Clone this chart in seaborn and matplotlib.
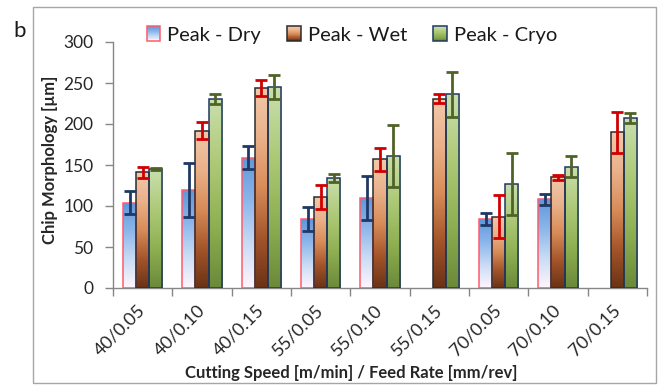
import numpy as np
import pandas as pd
import matplotlib
matplotlib.use("Agg")
import matplotlib.pyplot as plt
import seaborn as sns
from matplotlib.colors import LinearSegmentedColormap
from matplotlib.patches import Rectangle
from matplotlib.legend_handler import HandlerBase

# Cutting speed [m/min] / feed rate [mm/rev]
conditions = ["40/0.05", "40/0.10", "40/0.15", "55/0.05", "55/0.10",
              "55/0.15", "70/0.05", "70/0.10", "70/0.15"]
series = ["Peak - Dry", "Peak - Wet", "Peak - Cryo"]

# Peak chip morphology [um] and standard deviation
dry = [104, 119, 159, 84, 110, np.nan, 84, 108, np.nan]
dry_err = [14, 33, 14, 15, 27, np.nan, 7, 7, np.nan]
wet = [141, 192, 244, 111, 157, 231, 87, 135, 190]
wet_err = [7, 10, 10, 15, 14, 5, 26, 3, 25]
cryo = [145, 231, 245, 134, 161, 236, 127, 148, 207]
cryo_err = [1, 6, 15, 5, 38, 27, 38, 13, 6]

values = {"Peak - Dry": dry, "Peak - Wet": wet, "Peak - Cryo": cryo}
errors = {"Peak - Dry": dry_err, "Peak - Wet": wet_err, "Peak - Cryo": cryo_err}

# bottom -> top gradients for each bar family
fills = {
    "Peak - Dry": LinearSegmentedColormap.from_list(
        "dry", ["#fff6fd", "#c9dcf4", "#8cb6ea", "#5f97dc"]),
    "Peak - Wet": LinearSegmentedColormap.from_list(
        "wet", ["#6a3216", "#a4552a", "#d88c58", "#eab18a", "#f2c9ab"]),
    "Peak - Cryo": LinearSegmentedColormap.from_list(
        "cryo", ["#6b8939", "#8fb052", "#aeca78", "#cadfae"]),
}
edges = {"Peak - Dry": "#ff5b6b", "Peak - Wet": "#2b2b2b", "Peak - Cryo": "#1f3864"}
err_colors = {"Peak - Dry": "#1f3864", "Peak - Wet": "#d00000", "Peak - Cryo": "#4f6228"}

rows = []
for name in series:
    for cond, v in zip(conditions, values[name]):
        if np.isfinite(v):
            rows.append({"Condition": cond, "Series": name, "Value": v})
df = pd.DataFrame(rows)

sns.set_style("white")
plt.rcParams["font.family"] = ["Lato", "DejaVu Sans"]
plt.rcParams["text.color"] = "#1a1a1a"

W, H = 662, 385
fig = plt.figure(figsize=(W / 100, H / 100), dpi=100)
ax = fig.add_axes([113 / W, 1 - 288 / H, (647 - 113) / W, (288 - 42) / H])

sns.barplot(data=df, x="Condition", y="Value", hue="Series", order=conditions,
            hue_order=series, width=0.66, errorbar=None, saturation=1,
            legend=False, ax=ax)

grad = np.linspace(0, 1, 256).reshape(-1, 1)
for name, cont in zip(series, ax.containers):
    for bar in cont:
        h = bar.get_height()
        if not np.isfinite(h) or h <= 0:
            continue
        x0, w = bar.get_x(), bar.get_width()
        im = ax.imshow(grad, cmap=fills[name], extent=(x0, x0 + w, 0, h),
                       origin="lower", aspect="auto", zorder=2,
                       interpolation="bilinear")
        im.set_clip_path(bar)
        bar.set_facecolor("none")
        bar.set_edgecolor(edges[name])
        bar.set_linewidth(1.1)
        bar.set_zorder(3)
        idx = int(round(x0 + w / 2))
        ax.errorbar(x0 + w / 2, h, yerr=errors[name][idx], fmt="none",
                    ecolor=err_colors[name], elinewidth=2, capsize=4.5,
                    capthick=2, zorder=4)

ax.set_xlim(-0.5, len(conditions) - 0.5)
ax.set_ylim(0, 300)
ax.set_yticks(np.arange(0, 301, 50))

axis_grey = "#868686"
for side in ["top", "right"]:
    ax.spines[side].set_visible(False)
for side in ["left", "bottom"]:
    ax.spines[side].set_color(axis_grey)
    ax.spines[side].set_linewidth(1.0)

ax.set_xticks(range(len(conditions)))
ax.set_xticklabels(conditions, rotation=45, ha="right", va="center",
                   rotation_mode="anchor", fontsize=13)
ax.set_xticks(np.arange(-0.5, len(conditions), 1), minor=True)
ax.tick_params(axis="x", which="major", length=0, pad=14, bottom=True)
ax.tick_params(axis="x", which="minor", length=6, width=1, color=axis_grey,
               direction="out", bottom=True)
ax.tick_params(axis="y", which="major", length=6, width=1, color=axis_grey,
               direction="out", left=True, labelsize=12.5, pad=8)

ax.set_xlabel("Cutting Speed [m/min] / Feed Rate [mm/rev]",
              fontweight="bold", fontsize=12, va="center")
ax.xaxis.set_label_coords((351 - 113) / 534, (288 - 373) / 246)
ax.set_ylabel("Chip Morphology [µm]", fontweight="bold", fontsize=12,
              va="center")
ax.yaxis.set_label_coords((50 - 113) / 534, (288 - 160) / 246)


class GradientKey:
    def __init__(self, cmap, edge):
        self.cmap = cmap
        self.edge = edge


class GradientKeyHandler(HandlerBase):
    """Legend key filled with horizontal strips, lightest/darkest as in the bars."""
    steps = 16

    def create_artists(self, legend, orig_handle, xdescent, ydescent,
                       width, height, fontsize, trans):
        artists = []
        dh = height / self.steps
        for i in range(self.steps):
            artists.append(Rectangle(
                (-xdescent, -ydescent + i * dh), width, dh * 1.05,
                facecolor=orig_handle.cmap(i / (self.steps - 1)),
                edgecolor="none", transform=trans))
        artists.append(Rectangle((-xdescent, -ydescent), width, height,
                                 facecolor="none", edgecolor=orig_handle.edge,
                                 linewidth=1.1, transform=trans))
        return artists


keys = [GradientKey(fills[n], edges[n]) for n in series]
ax.legend(keys, series, handler_map={GradientKey: GradientKeyHandler()},
          loc="center", bbox_to_anchor=(352 / W, 1 - 35 / H),
          bbox_transform=fig.transFigure, ncol=3, frameon=False,
          fontsize=14.5, handlelength=0.68, handleheight=0.78,
          handletextpad=0.35, columnspacing=1.3, borderpad=0,
          borderaxespad=0)

fig.text(13 / W, 1 - 37 / H, "b", fontsize=16, va="baseline", ha="left")
fig.patches.append(Rectangle((33 / W, 1 - 383 / H), (656 - 33) / W,
                             (383 - 7) / H, transform=fig.transFigure,
                             fill=False, edgecolor="#a6a6a6", linewidth=1.0))

fig.savefig("out.png", dpi=100)
